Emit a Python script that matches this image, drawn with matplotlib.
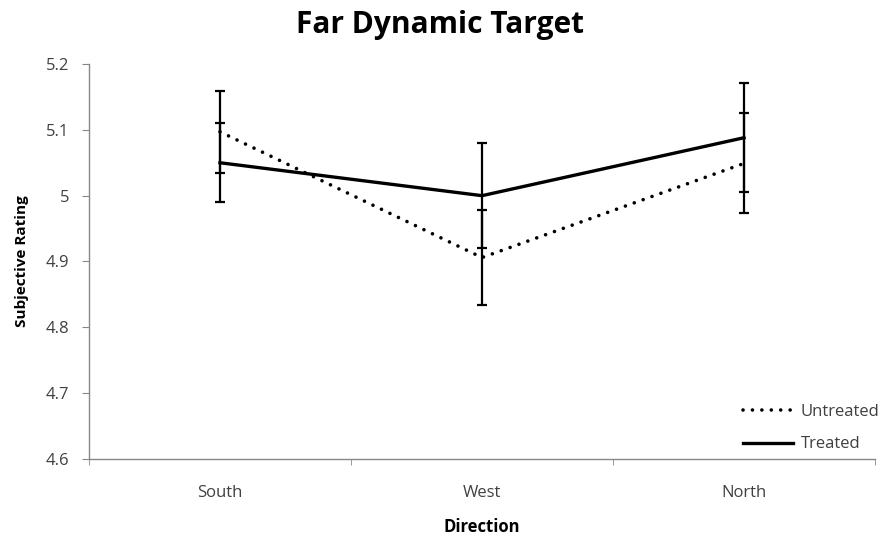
import matplotlib
matplotlib.use("Agg")
import matplotlib.pyplot as plt
from matplotlib.lines import Line2D
import numpy as np

categories = ["South", "West", "North"]
untreated = [5.097, 4.906, 5.049]
untreated_err = [0.062, 0.072, 0.076]
treated = [5.050, 5.000, 5.088]
treated_err = [0.060, 0.080, 0.083]
yticks = [4.6, 4.7, 4.8, 4.9, 5.0, 5.1, 5.2]
ytick_labels = ["4.6", "4.7", "4.8", "4.9", "5", "5.1", "5.2"]

plt.rcParams['font.family'] = ['Open Sans', 'DejaVu Sans']

fig = plt.figure(figsize=(8.85, 5.4), dpi=100)
W, H = 885, 540
ax = fig.add_axes([89 / W, (H - 459) / H, (875 - 89) / W, (459 - 64) / H])

dotted = (0, (0.01, 2.6))
x = np.arange(len(categories))
ax.errorbar(x, untreated, yerr=untreated_err, color='black', linestyle=dotted,
            linewidth=2.6, dash_capstyle='round', ecolor='black', elinewidth=1.6,
            capsize=3.8, capthick=1.6)
ax.errorbar(x, treated, yerr=treated_err, color='black', linestyle='-',
            linewidth=2.4, ecolor='black', elinewidth=1.6,
            capsize=3.8, capthick=1.6)

ax.set_xlim(-0.5, 2.5)
ax.set_ylim(4.6, 5.2)
ax.set_yticks(yticks)
ax.set_yticklabels(ytick_labels)
ax.set_xticks(x)
ax.set_xticklabels(categories)
ax.set_xticks([-0.5, 0.5, 1.5, 2.5], minor=True)
ax.tick_params(axis='x', which='major', length=0, pad=19, labelsize=12, labelcolor='#404040')
ax.tick_params(axis='x', which='minor', length=4, color='#888888', direction='out')
ax.tick_params(axis='y', length=5, color='#888888', labelsize=12, labelcolor='#404040', pad=9)

for s in ['top', 'right']:
    ax.spines[s].set_visible(False)
for s in ['left', 'bottom']:
    ax.spines[s].set_color('#888888')
    ax.spines[s].set_linewidth(1.0)

ax.set_xlabel('Direction', fontsize=12, fontweight='bold', labelpad=12)
ax.set_ylabel('Subjective Rating', fontsize=11, fontweight='bold', labelpad=12)
fig.suptitle('Far Dynamic Target', fontsize=21.5, fontweight='bold', x=0.497, y=0.982)

handles = [Line2D([], [], color='black', linestyle=dotted, linewidth=2.6, dash_capstyle='round'),
           Line2D([], [], color='black', linestyle='-', linewidth=2.4)]
leg = ax.legend(handles, ['Untreated', 'Treated'], loc='lower left',
                bbox_to_anchor=(0.823, 0.0), frameon=False,
                fontsize=12, handlelength=3.05, handletextpad=0.42, labelspacing=1.0,
                borderaxespad=0)
for t in leg.get_texts():
    t.set_color('#404040')

fig.savefig('out.png', dpi=100)
